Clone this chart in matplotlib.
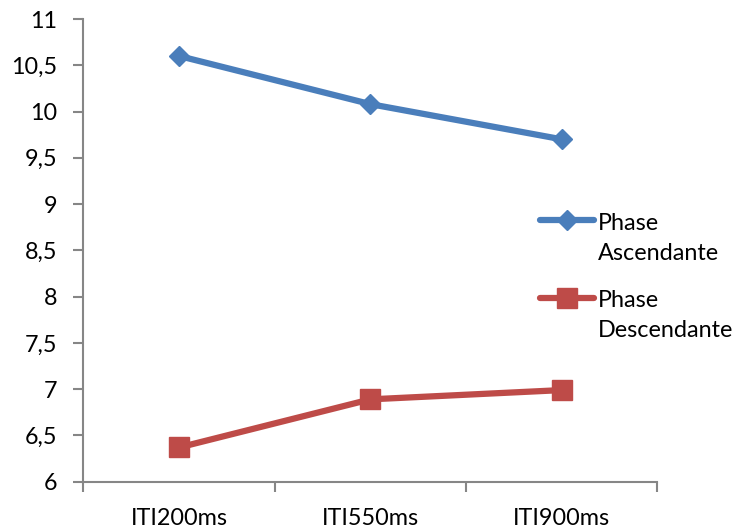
import matplotlib.pyplot as plt
from matplotlib.lines import Line2D
from matplotlib.ticker import FixedLocator, FuncFormatter

# donnees
categories = ["ITI200ms", "ITI550ms", "ITI900ms"]
phase_asc = [10.60, 10.08, 9.70]
phase_desc = [6.37, 6.89, 6.99]
noms = ["Phase\nAscendante", "Phase\nDescendante"]

bleu = "#4A7EBB"
rouge = "#BE4B48"
gris = "#868686"

plt.rcParams['font.family'] = ['Lato', 'DejaVu Sans']
taille_txt = 16.8

fig = plt.figure(figsize=(7.42, 5.28), dpi=100)
ax = fig.add_axes([0.1125, 0.0877, 0.886 - 0.1125, 0.964 - 0.0877])

x = list(range(len(categories)))
ax.plot(x, phase_asc, color=bleu, lw=4.5, marker='D', ms=10,
        mec=bleu, solid_capstyle='round')
ax.plot(x, phase_desc, color=rouge, lw=4.5, marker='s', ms=14,
        mec=rouge, solid_capstyle='round')

ax.set_xlim(-0.5, len(categories) - 0.5)
ax.set_ylim(6, 11)

ax.set_yticks([6 + 0.5 * i for i in range(11)])
ax.yaxis.set_major_formatter(FuncFormatter(
    lambda v, p: (f"{v:g}").replace(".", ",")))

# graduations entre les categories, etiquettes au centre
ax.xaxis.set_major_locator(FixedLocator([i - 0.5 for i in range(len(categories) + 1)]))
ax.xaxis.set_major_formatter(FuncFormatter(lambda v, p: ""))
ax.set_xticks(x, minor=True)
ax.set_xticklabels(categories, minor=True)
ax.tick_params(axis='x', which='minor', length=0, pad=19, labelsize=taille_txt)
ax.tick_params(axis='x', which='major', length=7, width=1.5, color=gris)
ax.tick_params(axis='y', length=7, width=1.5, color=gris, pad=12, labelsize=taille_txt)

for s in ['top', 'right']:
    ax.spines[s].set_visible(False)
for s in ['left', 'bottom']:
    ax.spines[s].set_color(gris)
    ax.spines[s].set_linewidth(1.5)

# legende faite a la main (symbole aligne sur la premiere ligne)
legende = [(bleu, 'D', 10, 0.583), (rouge, 's', 14, 0.436)]
for (c, m, taille, yy), nom in zip(legende, noms):
    fig.add_artist(Line2D([0.728, 0.801], [yy, yy], transform=fig.transFigure,
                          color=c, lw=4.5, solid_capstyle='round'))
    fig.add_artist(Line2D([0.7645], [yy], transform=fig.transFigure,
                          color=c, marker=m, ms=taille, mec=c))
    fig.text(0.806, yy + 0.0145, nom, fontsize=taille_txt, va='top', ha='left',
             linespacing=1.55)

fig.savefig("out.png", dpi=100)
